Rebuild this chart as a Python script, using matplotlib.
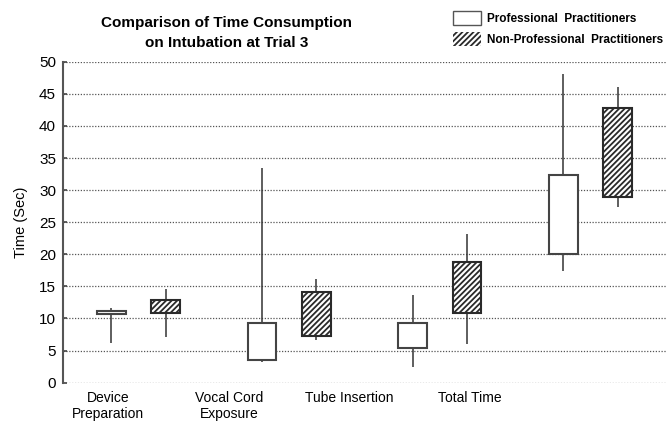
import matplotlib
matplotlib.use("Agg")
import matplotlib.pyplot as plt
from matplotlib.patches import Patch
import numpy as np

plt.rcParams['font.family'] = ['Liberation Sans', 'DejaVu Sans']
plt.rcParams['hatch.linewidth'] = 1.3

categories = ["Device\nPreparation", "Vocal Cord\nExposure", "Tube Insertion", "Total Time"]
series = ["Professional  Practitioners", "Non-Professional  Practitioners"]

# min, q1, q3, max for each category
pro_min = [6.2, 3.3, 2.5, 17.4]
pro_q1 = [10.65, 3.55, 5.45, 20.1]
pro_q3 = [11.15, 9.25, 9.25, 32.4]
pro_max = [11.7, 33.5, 13.7, 48.1]

non_min = [7.1, 6.65, 6.1, 27.4]
non_q1 = [10.9, 7.25, 10.9, 28.9]
non_q3 = [12.9, 14.2, 18.75, 42.8]
non_max = [14.65, 16.1, 23.1, 46.0]

yticks = list(range(0, 51, 5))

HATCH = '//////'

fig = plt.figure(figsize=(6.66, 4.21), dpi=100)
ax = fig.add_axes([0.0946, 0.091, 0.9054, 0.7624])

x = np.arange(1, len(categories) + 1)
off = 0.18
w = 0.19

for xs, lo, q1, q3, hi, hatch, edge in [
    (x - off, pro_min, pro_q1, pro_q3, pro_max, None, '#444444'),
    (x + off, non_min, non_q1, non_q3, non_max, HATCH, '#2a2a2a'),
]:
    lo, q1, q3, hi = map(np.array, (lo, q1, q3, hi))
    ax.vlines(xs, lo, q1, color='#333333', lw=1.1, zorder=2)
    ax.vlines(xs, q3, hi, color='#333333', lw=1.1, zorder=2)
    ax.bar(xs, q3 - q1, bottom=q1, width=w, facecolor='white', edgecolor=edge,
           linewidth=1.5, hatch=hatch, zorder=3)

ax.set_xlim(0.5, 4.5)
ax.set_ylim(0, 50)
ax.set_yticks(yticks)
ax.set_yticklabels([str(v) for v in yticks], fontsize=11)
ax.set_xticks([0.8, 1.6, 2.4, 3.2])
ax.set_xticklabels(categories, fontsize=10)
ax.tick_params(axis='x', length=0, pad=6)
ax.tick_params(axis='y', direction='in', length=3, width=1.2, color='#444444', pad=5)
for yv in yticks:
    ax.axhline(yv, color='#555555', lw=0.9, ls=(0, (1, 1.3)), zorder=1)
for s in ['top', 'right', 'bottom']:
    ax.spines[s].set_visible(False)
ax.spines['left'].set_color('#555555')
ax.spines['left'].set_linewidth(1.5)
ax.set_ylabel("Time (Sec)", fontsize=10.5, labelpad=8)

fig.text(0.34, 0.9216, "Comparison of Time Consumption\non Intubation at Trial 3",
         ha='center', va='center', fontsize=11, fontweight='bold', linespacing=1.5)

handles = [Patch(facecolor='white', edgecolor='#555555', lw=1.0),
           Patch(facecolor='white', edgecolor='#2a2a2a', lw=0, hatch=HATCH)]
fig.legend(handles, series, loc='upper left', bbox_to_anchor=(0.680, 0.974),
           frameon=False, prop={'size': 8.5, 'weight': 'bold'},
           handlelength=2.35, handleheight=1.45, labelspacing=0.6, handletextpad=0.55,
           borderaxespad=0, borderpad=0)

fig.savefig("out.png", dpi=100)
